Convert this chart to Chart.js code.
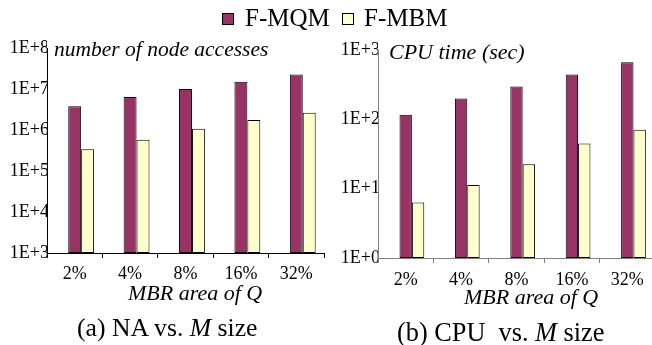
<!DOCTYPE html>
<html><head><meta charset="utf-8">
<script src="https://cdn.jsdelivr.net/npm/chart.js@4/dist/chart.umd.min.js"></script>
<style>
html,body{margin:0;padding:0;background:#fff;width:652px;height:345px;overflow:hidden;position:relative;color:#000;}
.t{position:absolute;white-space:pre;line-height:1;font-family:'Liberation Serif',serif;}
.it{font-style:italic;}
.sw{position:absolute;width:10px;height:10px;border:1px solid #000;}
</style></head><body>
<canvas id="a" width="330" height="345" style="position:absolute;left:0;top:0;"></canvas>
<canvas id="b" width="334" height="345" style="position:absolute;left:326px;top:0;"></canvas>

<div class="sw" style="left:222px;top:13px;background:#993366"></div>
<div class="t" style="left:245px;top:5px;font-size:25px">F-MQM</div>
<div class="sw" style="left:342px;top:13px;background:#FFFFCC"></div>
<div class="t" style="left:364px;top:5px;font-size:25px">F-MBM</div>

<div class="t it" style="left:54px;top:39px;font-size:21.5px">number of node accesses</div>
<div class="t it" style="left:389px;top:41px;font-size:22px">CPU time (sec)</div>
<div class="t it" style="left:128px;top:282px;font-size:22px">MBR area of Q</div>
<div class="t it" style="left:464px;top:286px;font-size:22px">MBR area of Q</div>
<div class="t" style="left:77px;top:315px;font-size:25.7px">(a) NA vs. <i>M</i> size</div>
<div class="t" style="left:397px;top:320px;font-size:26.3px">(b) CPU  vs. <i>M</i> size</div>

<script>
const categories = ['2%', '4%', '8%', '16%', '32%'];
const seriesNames = ['F-MQM', 'F-MBM'];
const naMQM = [3.8e6, 6.4e6, 1.0e7, 1.5e7, 2.25e7];
const naMBM = [3.4e5, 5.8e5, 1.08e6, 1.75e6, 2.65e6];
const cpuMQM = [116, 199, 297, 442, 667];
const cpuMBM = [6.3, 11.3, 22.5, 45, 71];
const naTicks = [1e3, 1e4, 1e5, 1e6, 1e7, 1e8];
const naTickLabels = ['1E+3', '1E+4', '1E+5', '1E+6', '1E+7', '1E+8'];
const cpuTicks = [1, 10, 100, 1000];
const cpuTickLabels = ['1E+0', '1E+1', '1E+2', '1E+3'];

const colMQM = '#993366', colMBM = '#FFFFCC';
const FONT = "'Liberation Serif', serif";
Chart.defaults.font.family = FONT;

function makeChart(id, mqm, mbm, ticks, tickLabels, o) {
  const spacer = categories.map(() => null);
  return new Chart(document.getElementById(id), {
    type: 'bar',
    data: {
      labels: categories,
      datasets: [
        {label: '', data: spacer},
        {label: seriesNames[0], data: mqm, backgroundColor: colMQM, borderColor: '#000', borderWidth: 1, borderSkipped: false},
        {label: seriesNames[1], data: mbm, backgroundColor: colMBM, borderColor: '#000', borderWidth: 1, borderSkipped: false}
      ]
    },
    options: {
      responsive: false,
      animation: false,
      events: [],
      layout: {padding: {left: 0, right: o.padRight, top: o.top, bottom: 0}},
      datasets: {bar: {barPercentage: 1, categoryPercentage: o.catPct}},
      plugins: {legend: {display: false}, tooltip: {enabled: false}, title: {display: false}},
      scales: {
        x: {
          offset: true,
          afterFit: s => { s.height = o.xHeight; },
          grid: {display: true, drawOnChartArea: false, drawTicks: true, tickLength: 5, offset: true, color: o.axisColor},
          border: {display: true, color: o.axisColor, width: 1},
          ticks: {color: '#000', font: {family: FONT, size: 18}, padding: o.xPad, maxRotation: 0, autoSkip: false}
        },
        y: {
          type: 'logarithmic',
          min: ticks[0], max: ticks[ticks.length - 1],
          afterBuildTicks: s => { s.ticks = ticks.map(v => ({value: v})); },
          afterFit: s => { s.width = o.yWidth; },
          grid: {display: false, drawTicks: false},
          border: {display: true, color: o.axisColor, width: 1},
          ticks: {
            color: '#000', font: {family: FONT, size: 18}, padding: -2, autoSkip: false,
            callback: v => { const i = ticks.indexOf(v); return i >= 0 ? tickLabels[i] : ''; }
          }
        }
      }
    }
  });
}

function build() {
  makeChart('a', naMQM, naMBM, naTicks, naTickLabels,
    {padRight: 6, top: 48, xHeight: 92, yWidth: 47, catPct: 0.70, axisColor: '#000', xPad: 5});
  makeChart('b', cpuMQM, cpuMBM, cpuTicks, cpuTickLabels,
    {padRight: 5, top: 50, xHeight: 87, yWidth: 52, catPct: 0.67, axisColor: '#808080', xPad: 6});
}
if (document.fonts && document.fonts.load) {
  Promise.all([document.fonts.load("18px 'Liberation Serif'"), document.fonts.load("italic 20px 'Liberation Serif'")])
    .then(build, build);
} else { build(); }
</script>
</body></html>
